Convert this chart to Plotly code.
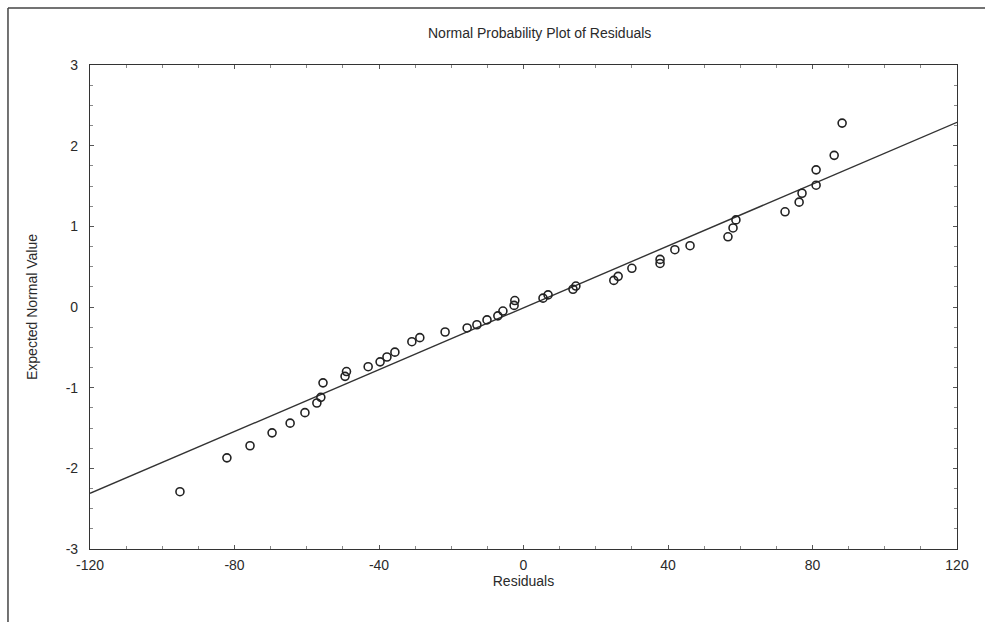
import plotly.graph_objects as go

# Data
residuals = [-95.1, -82.1, -75.7, -69.6, -64.6, -60.5, -57.2, -56.1, -55.5, -49.4,
             -49.0, -43.0, -39.7, -37.8, -35.6, -30.9, -28.7, -21.7, -15.6, -12.9,
             -10.1, -7.1, -5.7, -2.6, -2.4, 5.4, 6.8, 13.7, 14.5, 25.0,
             26.2, 30.0, 37.8, 37.8, 41.9, 46.1, 56.6, 58.0, 58.8, 72.4,
             76.3, 77.1, 81.0, 81.0, 86.0, 88.2]
expected = [-2.29, -1.87, -1.72, -1.56, -1.44, -1.31, -1.19, -1.12, -0.94, -0.86,
            -0.80, -0.74, -0.68, -0.62, -0.56, -0.43, -0.38, -0.31, -0.26, -0.22,
            -0.16, -0.11, -0.05, 0.02, 0.08, 0.11, 0.15, 0.22, 0.26, 0.33,
            0.38, 0.48, 0.54, 0.59, 0.71, 0.76, 0.87, 0.98, 1.08, 1.18,
            1.30, 1.41, 1.51, 1.70, 1.88, 2.28]
fit_x = [-120, 120]
fit_y = [-2.31, 2.29]
x_ticks = [-120, -80, -40, 0, 40, 80, 120]
y_ticks = [-3, -2, -1, 0, 1, 2, 3]

FONT = "Liberation Sans, Arial, sans-serif"
INK = "#2a2a2a"

fig = go.Figure()
fig.add_trace(go.Scatter(x=fit_x, y=fit_y, mode="lines",
                         line=dict(color="#333333", width=1.4),
                         showlegend=False, hoverinfo="skip"))
fig.add_trace(go.Scatter(x=residuals, y=expected, mode="markers",
                         marker=dict(symbol="circle-open", size=8,
                                     color="#222222", line=dict(width=1.6)),
                         showlegend=False))

axis_common = dict(showgrid=False, zeroline=False, showline=True,
                   linecolor="#333333", linewidth=1.2, mirror="ticks",
                   ticks="inside", ticklen=4, tickcolor="#555555",
                   tickfont=dict(family=FONT, size=14, color=INK))

fig.update_xaxes(range=[-120, 120], tickvals=x_ticks,
                 ticktext=[str(v) for v in x_ticks],
                 ticklabelstandoff=3,
                 title=dict(text="Residuals", font=dict(family=FONT, size=14, color=INK),
                            standoff=4),
                 minor=dict(ticks="inside", ticklen=3, dtick=10, tickcolor="#888888"),
                 **axis_common)
fig.update_yaxes(range=[-3, 3], tickvals=y_ticks,
                 ticktext=[str(v) for v in y_ticks],
                 ticklabelstandoff=8,
                 title=dict(text="Expected Normal Value",
                            font=dict(family=FONT, size=14, color=INK), standoff=24),
                 minor=dict(ticks="inside", ticklen=3, dtick=0.25, tickcolor="#888888"),
                 **axis_common)

fig.update_layout(
    width=985, height=622,
    margin=dict(l=90, r=28, t=65, b=73),
    paper_bgcolor="white", plot_bgcolor="white",
    font=dict(family=FONT, color=INK),
    annotations=[dict(text="Normal Probability Plot of Residuals",
                      xref="paper", yref="paper", x=0.519, y=1.067,
                      xanchor="center", yanchor="middle", showarrow=False,
                      font=dict(family=FONT, size=14, color=INK))],
    shapes=[
        dict(type="line", xref="paper", yref="paper",
             x0=-0.0946, x1=-0.0946, y0=-0.16, y1=1.118,
             line=dict(color="#444444", width=1.5)),
        dict(type="line", xref="paper", yref="paper",
             x0=-0.0946, x1=1.035, y0=1.118, y1=1.118,
             line=dict(color="#444444", width=1.5)),
    ],
)

fig.write_html("out.html")
